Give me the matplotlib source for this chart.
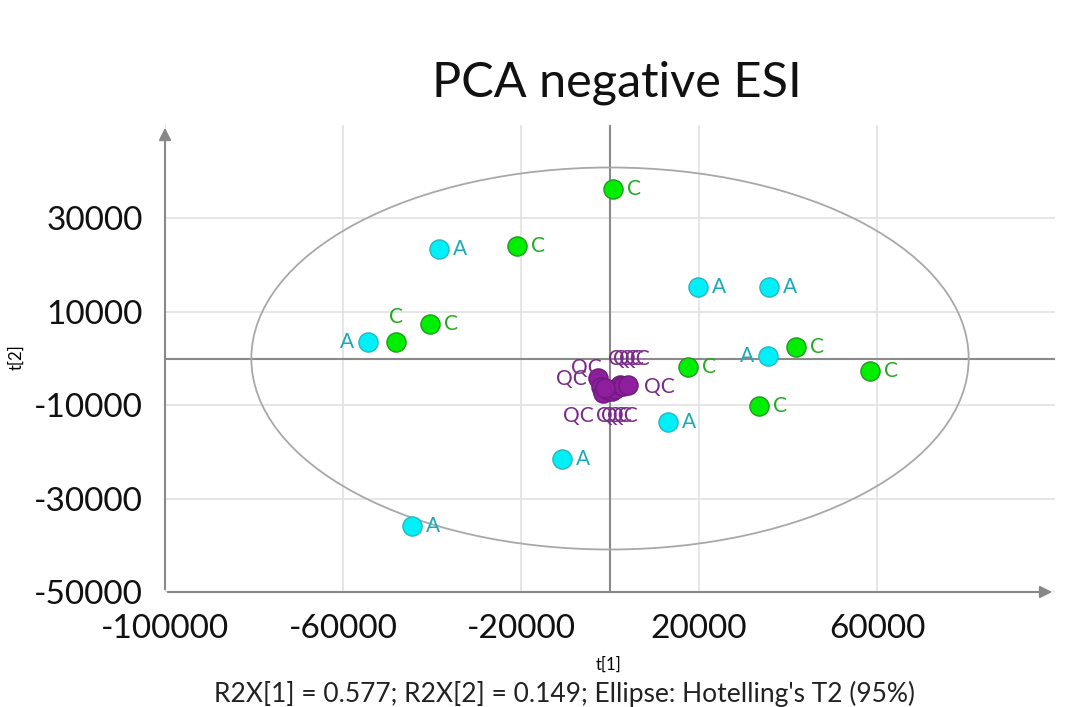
import matplotlib.pyplot as plt
from matplotlib.patches import Ellipse

plt.rcParams['font.family'] = ['Lato', 'DejaVu Sans']
plt.rcParams['axes.unicode_minus'] = False

# Scores - group A
a_t1 = [-38400, -54400, 19800, 35700, 35500, 13000, -10800, -44500]
a_t2 = [23400, 3500, 15300, 15300, 500, -13600, -21500, -35800]

# Scores - group C
c_t1 = [700, -20900, -40400, -48100, 41800, 17500, 58400, 33500]
c_t2 = [36400, 24100, 7400, 3500, 2500, -1800, -2700, -10200]

# Scores - QC
qc_t1 = [-2700, -2000, -1600, -450, 450, 1100, 2200, 2900, 4000, -1100]
qc_t2 = [-4200, -6100, -7400, -6700, -7000, -6500, -5700, -5900, -5700, -6300]

# Hotelling's T2 ellipse semi-axes
ell_t1 = 80600
ell_t2 = 40900

xticks = [-100000, -60000, -20000, 20000, 60000]
yticks = [-50000, -30000, -10000, 10000, 30000]

# label placement (offset pixels)
a_off = [(14, 0), (-14, 0), (14, 0), (14, 0), (-14, 0), (14, 0), (14, 0), (14, 0)]
c_off = [(14, 0), (14, 0), (14, 0), (0, 25), (14, 0), (14, 0), (14, 0), (14, 0)]
qc_off = [(-27, 10), (-45, 8), (-40, -23), (-12, -26), (-11, -25), (-8, -27),
          (-12, 26), (-10, 27), (16, -2), (14, 29)]

fig = plt.figure(figsize=(10.7, 7.07), dpi=100)
ax = fig.add_axes([165 / 1070, 115 / 707, 890 / 1070, 467 / 707])
ax.set_xlim(-100000, 100000)
ax.set_ylim(-50000, 50000)

for s in ax.spines.values():
    s.set_visible(False)

ax.set_xticks(xticks)
ax.set_yticks(yticks)
ax.grid(True, color='#e2e2e2', linewidth=1.2)
ax.set_axisbelow(True)
ax.tick_params(length=0, labelsize=24, pad=16, labelcolor='#111111')
ax.axhline(0, color='#8a8a8a', linewidth=1.5, zorder=1)
ax.axvline(0, color='#8a8a8a', linewidth=1.5, zorder=1)

# arrow axes
ax.annotate('', xy=(0, 1.0), xytext=(0, 0), xycoords='axes fraction',
            arrowprops=dict(arrowstyle='-|>', color='#888888', lw=1.5, mutation_scale=18),
            annotation_clip=False)
ax.annotate('', xy=(1.0, 0), xytext=(0, 0), xycoords='axes fraction',
            arrowprops=dict(arrowstyle='-|>', color='#888888', lw=1.5, mutation_scale=18),
            annotation_clip=False)

ax.add_patch(Ellipse((0, 0), 2 * ell_t1, 2 * ell_t2, fill=False,
                     edgecolor='#a8a8a8', linewidth=1.3, zorder=2))

def draw_group(xs, ys, offs, face, edge, tcolor, txt):
    ax.scatter(xs, ys, s=190, facecolor=face, edgecolor=edge, linewidth=1.0, zorder=4)
    for x, y, (dx, dy) in zip(xs, ys, offs):
        if dx < 0 and txt != 'QC':
            ha = 'right'
        elif dx == 0:
            ha = 'center'
        else:
            ha = 'left'
        ax.annotate(txt, (x, y), xytext=(dx, dy), textcoords='offset pixels',
                    ha=ha, va='center', fontsize=15, color=tcolor, zorder=5)

draw_group(a_t1, a_t2, a_off, '#00f0f8', '#2ab5c0', '#1aaab8', 'A')
draw_group(c_t1, c_t2, c_off, '#00ee00', '#1f9a1f', '#22aa22', 'C')
draw_group(qc_t1, qc_t2, qc_off, '#8e1e9e', '#6e1a7e', '#7a2a8a', 'QC')

fig.text(617 / 1070, 1 - 83 / 707, 'PCA negative ESI', ha='center', va='center',
         fontsize=35, color='#111111')
fig.text(609 / 1070, 1 - 665 / 707, 't[1]', ha='center', va='center', fontsize=12)
fig.text(16 / 1070, 1 - 357 / 707, 't[2]', ha='center', va='center', fontsize=12, rotation=90)
fig.text(565 / 1070, 1 - 694 / 707, "R2X[1] = 0.577; R2X[2] = 0.149; Ellipse: Hotelling's T2 (95%)",
         ha='center', va='center', fontsize=19, color='#222222')

fig.savefig('out.png', dpi=100)
